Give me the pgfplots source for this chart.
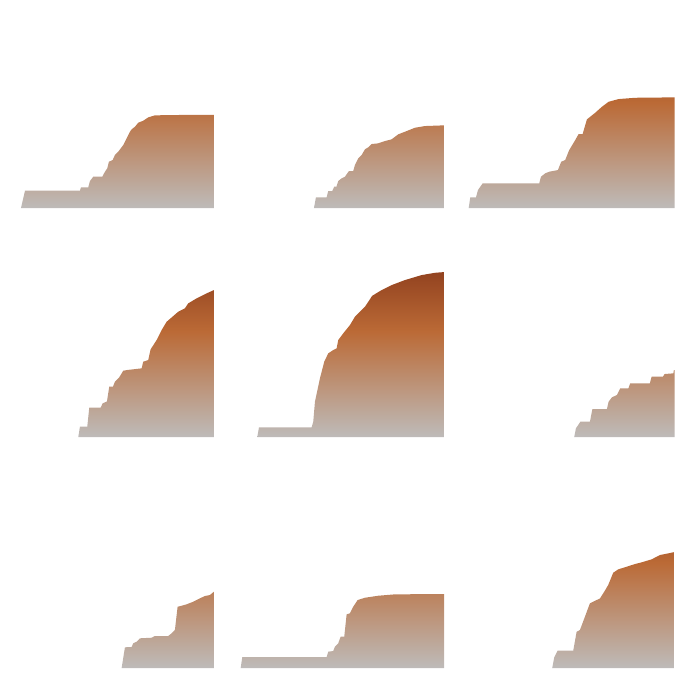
\documentclass[border=0pt]{standalone}
\usepackage{pgfplots}
\pgfplotsset{compat=1.18}

\definecolor{lowgrey}{RGB}{190,187,185}
\definecolor{midorange}{RGB}{187,106,54}
\definecolor{topbrown}{RGB}{147,67,32}

% shared vertical ramp, stretched over 0..165 in every panel
\pgfdeclareverticalshading{areashade}{100bp}{%
  color(0bp)=(lowgrey); color(25bp)=(lowgrey);
  color(57bp)=(midorange);
  color(75bp)=(topbrown); color(100bp)=(topbrown)}

\pgfplotsset{
  panel/.style={
    hide axis, anchor=south west,
    x=0.01cm, y=0.01cm,
    xmin=0, xmax=210, ymin=0, ymax=170,
    clip=false,
  },
  area/.style={draw=none, no markers, shade, shading=areashade},
}

\begin{document}
\begin{tikzpicture}
\useasboundingbox (0,0) rectangle (7,7);

% ---- row 1
\begin{axis}[panel, at={(0.10cm,4.92cm)}]
\addplot[area] coordinates {
 (11,0) (15,17.3) (70,17.3) (71,20.7) (78.3,20.7) (80,27) (83.3,31.3)
 (92.3,31.3) (95,36.3) (97.3,39.7) (99,46.3) (102.7,48) (105,53)
 (108.3,56.3) (113.3,63) (116.7,69.7) (120,76.3) (121.7,78.7) (125,81.3)
 (128.3,85.3) (133.3,87.3) (138.3,90.7) (145,92.7) (160,93) (204,93.3)
} \closedcycle (axis cs:100,165);
\end{axis}

\begin{axis}[panel, at={(2.40cm,4.92cm)}]
\addplot[area] coordinates {
 (74,0) (76,10.7) (86.7,10.7) (88.3,17) (92.3,17) (94.3,21.3) (96.5,21.3)
 (98.3,27) (101.7,29.7) (105,31.3) (109,37) (113.3,37) (115,43)
 (118.3,49.7) (121.7,53) (125,58.7) (128.3,60.7) (131.7,64) (138.3,64.7)
 (145,67) (151.7,68.7) (158.3,73.7) (165,76.3) (175,80.3) (185,82)
 (204,82.7)
} \closedcycle (axis cs:100,165);
\end{axis}

\begin{axis}[panel, at={(4.66cm,4.92cm)}]
\addplot[area] coordinates {
 (2.7,0) (4.3,10.7) (10,10.7) (12,18) (16.7,24.7) (73.3,24.7) (75,31.3)
 (79.3,34.7) (83.3,36.3) (92,38) (95.3,46.3) (99.3,48) (103.3,58)
 (109.3,68) (112.7,74) (116.7,74) (121,88.7) (124.3,91.3) (129.3,95.3)
 (136,101.3) (142.7,106.3) (152.7,109) (169.3,110.3) (208.7,110.7)
} \closedcycle (axis cs:100,165);
\end{axis}

% ---- row 2
\begin{axis}[panel, at={(0.10cm,2.63cm)}]
\addplot[area] coordinates {
 (68.3,0) (70,10.3) (77.3,10.3) (79.3,29.3) (90.7,29.3) (92.7,33.7)
 (97,35.5) (99.3,50.3) (103,50.3) (105,55.3) (109.3,59.7) (113.3,66.3)
 (117,67) (131.7,68.7) (133.3,75.3) (138.3,77) (140.7,87.7) (146.7,97)
 (151.7,107) (156.7,115.3) (163.3,121) (168.3,125.3) (175,128.7)
 (178.3,133.7) (186.7,138.7) (196.7,143.7) (204,147)
} \closedcycle (axis cs:100,165);
\end{axis}

\begin{axis}[panel, at={(2.40cm,2.63cm)}]
\addplot[area] coordinates {
 (17.3,0) (19,9.7) (71.7,9.7) (73.3,15.3) (75,35.3) (80,58.7) (84.3,75.3)
 (88.3,83.7) (93.3,87) (96.7,88.7) (98.3,97) (103.3,103.7) (110,112)
 (115,120.3) (120,125.3) (125,130.3) (132.3,141.3) (141.7,147)
 (151.7,152) (165,157) (181.7,162) (195,164.3) (204,165)
} \closedcycle (axis cs:100,165);
\end{axis}

\begin{axis}[panel, at={(4.66cm,2.63cm)}]
\addplot[area] coordinates {
 (108.3,0) (110,8.7) (114.5,15.3) (124,15.3) (126.5,28) (141,28)
 (142.7,35.3) (146,39.7) (151,42) (154.3,48.7) (162.5,48.7) (164.3,53.7)
 (184,53.7) (185.7,60.3) (197,60.3) (198.7,63) (207.5,63.7) (208,67)
 (208.7,67)
} \closedcycle (axis cs:150,165);
\end{axis}

% ---- row 3
\begin{axis}[panel, at={(0.10cm,0.32cm)}]
\addplot[area] coordinates {
 (111.7,0) (115,20.7) (121.7,21) (123.3,24.7) (126.7,26.3) (130,29.7)
 (141.7,30.3) (145,32) (158.3,32) (161.7,34.7) (165,38) (167.7,61.3)
 (171.7,62.3) (176.7,63.7) (183.3,66.3) (190,69.7) (195,72) (200,73)
 (204,76.3)
} \closedcycle (axis cs:150,165);
\end{axis}

\begin{axis}[panel, at={(2.40cm,0.32cm)}]
\addplot[area] coordinates {
 (0.7,0) (2.3,11) (86.7,11) (88.3,16.3) (93.3,17) (95,21.3) (98.3,24.7)
 (100.7,31.3) (104.3,31.3) (106.7,53.7) (110,54.7) (113.3,61.3)
 (117.7,68) (125,70.3) (138.3,72.3) (155,73.7) (204.3,74)
} \closedcycle (axis cs:100,165);
\end{axis}

\begin{axis}[panel, at={(4.66cm,0.32cm)}]
\addplot[area] coordinates {
 (86.3,0) (88.3,10.7) (91.7,17.3) (107.3,17.3) (110.7,36.3) (114,38)
 (119,51.3) (124,64.7) (130.7,68) (134,69.5) (138.3,76.3) (142.3,83)
 (147.3,95.3) (152.3,98.7) (160.7,101.3) (169,104) (175.7,105.7)
 (185.7,108.7) (194,113) (208.7,116)
} \closedcycle (axis cs:150,165);
\end{axis}
\end{tikzpicture}
\end{document}
